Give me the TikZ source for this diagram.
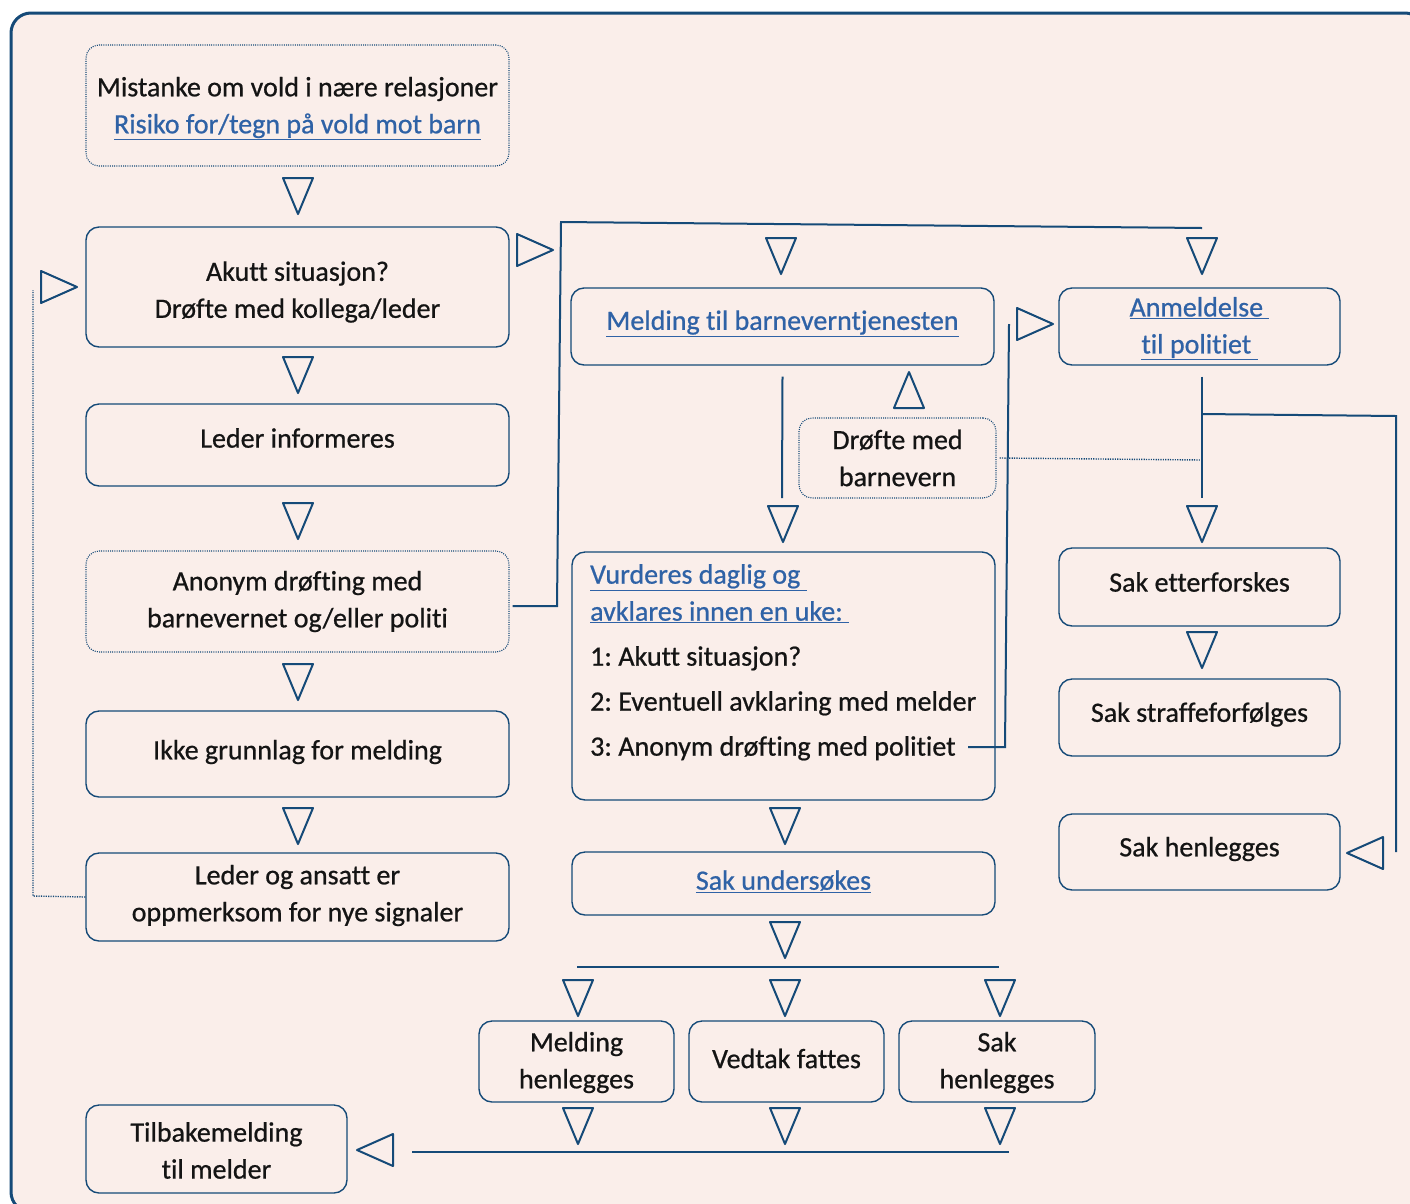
\documentclass[tikz,border=0pt]{standalone}
\usepackage{fontspec}
\setmainfont{Carlito}[FakeBold=0.7,Ligatures=NoCommon]
\definecolor{bg}{HTML}{FAEEEA}
\definecolor{navy}{HTML}{154A78}
\definecolor{lnkc}{HTML}{2F62A6}
\definecolor{ink}{HTML}{141414}
\newcommand\myfs{\fontsize{28}{37}\selectfont}
\newcommand\lnk[1]{\textcolor{lnkc}{\underline{#1}}}
\begin{document}
\begin{tikzpicture}[x=1pt,y=-1pt,
  box/.style={draw=navy, line width=1.4pt, rounded corners=13pt, inner sep=0pt},
  dbox/.style={box, line width=1.1pt, dash pattern=on 1pt off 1.2pt},
  txt/.style={font=\myfs, text=ink, inner sep=0pt, align=center},
  conn/.style={draw=navy, line width=2pt},
  dconn/.style={draw=navy, line width=1.4pt, dash pattern=on 1.2pt off 1.2pt},
  tri/.style={draw=navy, line width=2pt, line join=round},
  trid/.pic={\draw[tri] (-15,-18) -- (15,-18) -- (0,18) -- cycle;},
  triu/.pic={\draw[tri] (-15,18) -- (15,18) -- (0,-18) -- cycle;},
  trir/.pic={\draw[tri] (-18,-16) -- (-18,16) -- (18,0) -- cycle;},
  tril/.pic={\draw[tri] (18,-16) -- (18,16) -- (-18,0) -- cycle;}
]
\useasboundingbox (0,0) rectangle (1410,1203);
\fill[white] (0,0) rectangle (1410,1203);
\draw[navy, line width=3pt, fill=bg, rounded corners=20pt] (11,13) rectangle (1425,1212);

% left column
\node[dbox, minimum width=423pt, minimum height=121pt] (m1) at (297.5,105.5) {};
\node[txt] (m1t) at ([yshift=-3pt]m1) {Mistanke om vold i nære relasjoner\\\lnk{Risiko for/tegn på vold mot barn}};
\node[box, minimum width=423pt, minimum height=120pt] (m2) at (297.5,287) {};
\node[txt] (m2t) at ([yshift=-5pt]m2) {Akutt situasjon?\\Drøfte med kollega/leder};
\node[box, minimum width=423pt, minimum height=82pt] (m3) at (297.5,445) {};
\node[txt] (m3t) at ([yshift=7pt]m3) {Leder informeres};
\node[dbox, minimum width=423pt, minimum height=101pt] (m4) at (297.5,601.5) {};
\node[txt] (m4t) at (m4) {Anonym drøfting med\\barnevernet og/eller politi};
\node[box, minimum width=423pt, minimum height=86pt] (m5) at (297.5,754) {};
\node[txt] (m5t) at ([yshift=2pt]m5) {Ikke grunnlag for melding};
\node[box, minimum width=423pt, minimum height=88pt] (m6) at (297.5,897) {};
\node[txt] (m6t) at ([yshift=1.5pt]m6) {Leder og ansatt er\\oppmerksom for nye signaler};
\node[box, minimum width=261pt, minimum height=88pt] (m7) at (216.5,1149) {};
\node[txt] (m7t) at ([yshift=-1.5pt]m7) {Tilbakemelding\\til melder};

% middle column
\node[box, minimum width=423pt, minimum height=77pt] (b1) at (782.5,326.5) {};
\node[txt] (b1t) at ([yshift=3pt]b1) {\lnk{Melding til barneverntjenesten}};
\node[dbox, minimum width=197pt, minimum height=80pt] (b2) at (897.5,458) {};
\node[txt] (b2t) at (b2) {Drøfte med\\barnevern};
\node[box, minimum width=423pt, minimum height=248pt] (b3) at (783.5,676) {};
\node[txt, align=left, anchor=north west] (b3t) at (590,564)
  {\lnk{Vurderes daglig og\ }\\\lnk{avklares innen en uke:\ }\\[8pt]
   1:\hspace{-2pt} Akutt situasjon?\\[8pt]2:\hspace{-2pt} Eventuell avklaring med melder\\[8pt]3:\hspace{-2pt} Anonym drøfting med politiet};
\node[box, minimum width=423pt, minimum height=63pt] (b4) at (783.5,883.5) {};
\node[txt] (b4t) at ([yshift=2pt]b4) {\lnk{Sak undersøkes}};
\node[box, minimum width=195pt, minimum height=81pt] (b5) at (576.5,1061.5) {};
\node[txt] (b5t) at ([yshift=-1pt]b5) {Melding\\henlegges};
\node[box, minimum width=195pt, minimum height=81pt] (b6) at (786.5,1061.5) {};
\node[txt] (b6t) at ([yshift=3pt]b6) {Vedtak fattes};
\node[box, minimum width=196pt, minimum height=81pt] (b7) at (997,1061.5) {};
\node[txt] (b7t) at ([yshift=-1pt]b7) {Sak\\henlegges};

% right column
\node[box, minimum width=281pt, minimum height=77pt] (r1) at (1199.5,326.5) {};
\node[txt] (r1t) at ([yshift=-2pt]r1) {\lnk{Anmeldelse\ }\\\lnk{til politiet\ }};
\node[box, minimum width=281pt, minimum height=78pt] (r2) at (1199.5,587) {};
\node[txt] (r2t) at ([yshift=5pt]r2) {Sak etterforskes};
\node[box, minimum width=281pt, minimum height=77pt] (r3) at (1199.5,717.5) {};
\node[txt] (r3t) at ([yshift=3pt]r3) {Sak straffeforfølges};
\node[box, minimum width=281pt, minimum height=76pt] (r4) at (1199.5,852) {};
\node[txt] (r4t) at ([yshift=3pt]r4) {Sak henlegges};

% connector coordinates
\coordinate (a1) at (557,606);
\coordinate (a2) at (561,222);
\coordinate (a3) at (1202,228);
\coordinate (p1) at (782,498);
\coordinate (p2) at (1202,498);
\coordinate (q1) at (1202,414);
\coordinate (q2) at (1396,416);
\coordinate (q3) at (1396,852);
\coordinate (d1) at (1202,460);
\coordinate (e0) at (968,747);
\coordinate (e1) at (1005,747);
\coordinate (e2) at (1009,324);
\coordinate (f1) at (33,896);
\coordinate (f2) at (33,290);
\coordinate (h1) at (577,967);
\coordinate (h2) at (999,967);
\coordinate (k1) at (412,1152);
\coordinate (k2) at (1009,1152);

\draw[conn] ([xshift=3pt,yshift=-4.5pt]m4.east) -- (a1) -- (a2) -- (a3);
\draw[conn] ([yshift=-11pt]b1.south) -- (p1);
\draw[conn] ([yshift=-11pt,xshift=2.5pt]r1.south) -- (p2);
\draw[conn] (q1) -- (q2) -- (q3);
\draw[dconn] ([xshift=3pt]b2.east) -- (d1);
\draw[conn] (e0) -- (e1) -- (e2);
\draw[dconn] (m6.west) -- (f1) -- (f2);
\draw[conn] (h1) -- (h2);
\draw[conn] (k1) -- (k2);

% arrowheads
\foreach \p in {(298,196),(298,375),(298,521),(298,682),(298,826),
  (781,256),(1202,256),(783,524),(1202,524),(1202,650),(785,826),(785,940),
  (578,998),(785,998),(1000,998),(578,1126),(785,1126),(1000,1126)}
  \pic at \p {trid};
\pic at (909,390) {triu};
\pic at (535,250) {trir};
\pic at (59,287) {trir};
\pic at (1035,324) {trir};
\pic at (1365,853) {tril};
\pic at (375,1150) {tril};
\end{tikzpicture}
\end{document}
